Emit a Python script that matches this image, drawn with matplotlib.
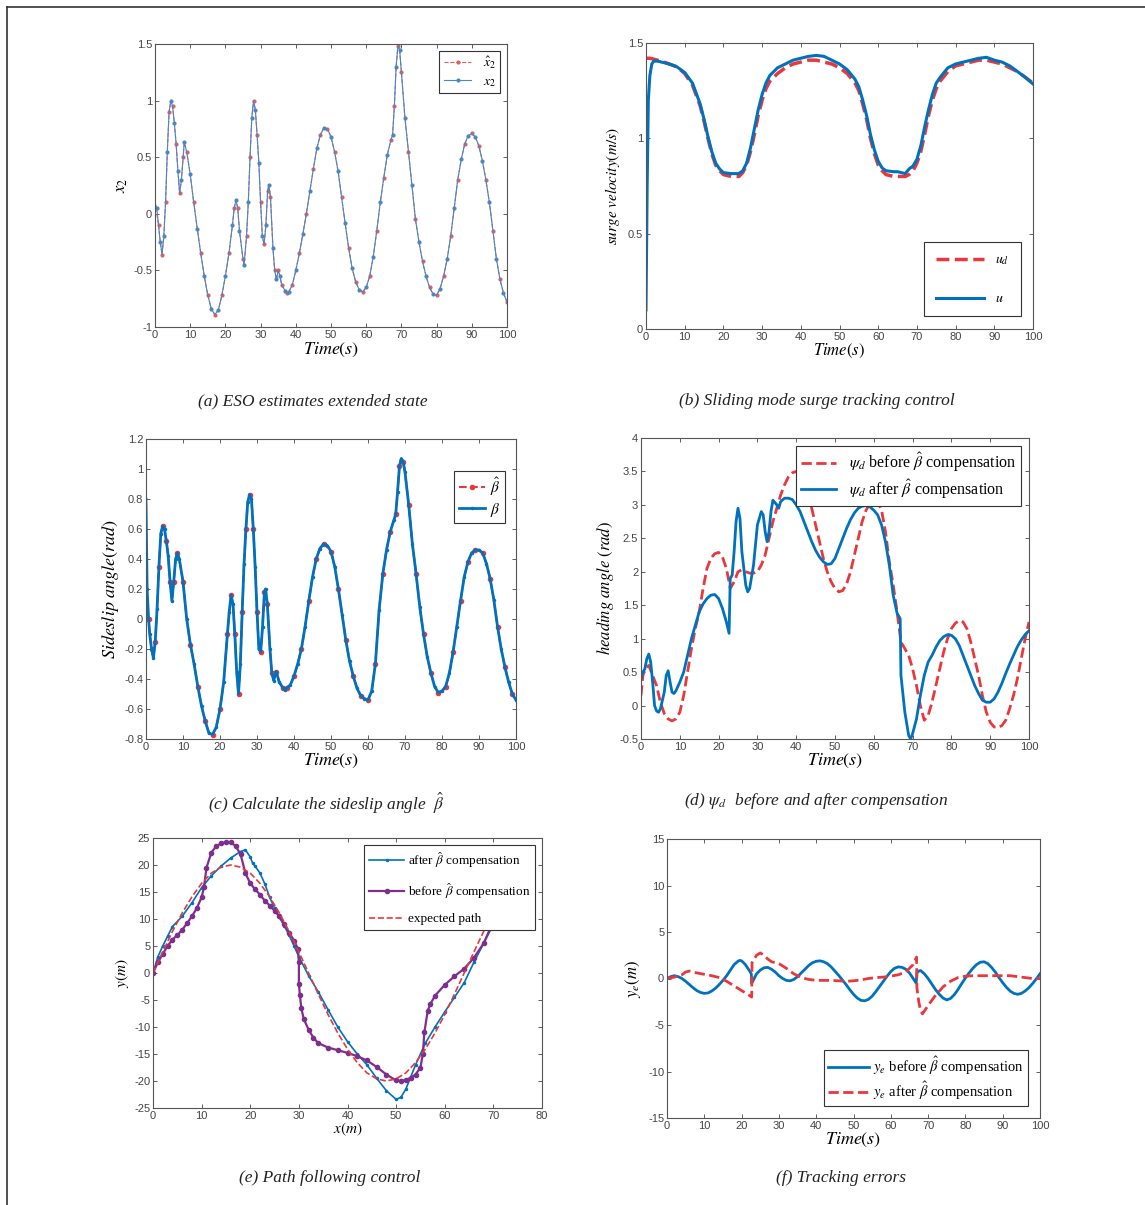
import matplotlib.pyplot as plt
from matplotlib.lines import Line2D
from matplotlib.ticker import FuncFormatter, MultipleLocator

# ---------- data ----------
# (a) ESO estimate of x2
t_a = [0, 0.5, 1, 1.5, 2, 2.5, 3, 3.5, 4, 4.5,
       5, 5.5, 6, 6.5, 7, 7.5, 8, 8.3, 9, 10,
       11, 12, 13, 14, 15, 16, 17, 18, 19, 20,
       21, 22, 22.5, 23, 23.5, 24, 25, 25.3, 26, 26.5,
       27, 27.5, 28, 28.5, 29, 29.5, 30, 30.5, 31, 31.5,
       32, 32.3, 32.8, 33.5, 34, 34.5, 35, 35.5, 36, 37,
       37.5, 38, 39, 40, 41, 42, 43, 44, 45, 46,
       47, 48, 49, 50, 51, 52, 53, 54, 55, 56,
       57, 58, 59, 60, 61, 62, 63, 64, 65, 66,
       67, 67.5, 68, 68.5, 69, 69.5, 70, 71, 72, 73,
       74, 75, 76, 77, 78, 79, 80, 81, 82, 83,
       84, 85, 86, 87, 88, 89, 90, 91, 92, 93,
       94, 95, 96, 97, 98, 99, 100]
x2 = [0.1, 0.05, -0.1, -0.25, -0.36, -0.2, 0.1, 0.55, 0.9, 1.0,
      0.95, 0.8, 0.62, 0.38, 0.18, 0.3, 0.5, 0.63, 0.55, 0.35,
      0.1, -0.13, -0.35, -0.55, -0.72, -0.84, -0.89, -0.85, -0.72, -0.55,
      -0.35, -0.1, 0.05, 0.12, 0.05, -0.15, -0.4, -0.45, -0.2, 0.1,
      0.5, 0.85, 1.0, 0.92, 0.7, 0.45, 0.1, -0.2, -0.27, -0.1,
      0.2, 0.25, 0.15, -0.3, -0.5, -0.58, -0.5, -0.55, -0.63, -0.68,
      -0.7, -0.69, -0.63, -0.5, -0.35, -0.18, 0.0, 0.2, 0.4, 0.58,
      0.7, 0.76, 0.75, 0.68, 0.55, 0.38, 0.15, -0.08, -0.3, -0.48,
      -0.6, -0.67, -0.69, -0.65, -0.55, -0.38, -0.15, 0.1, 0.32, 0.52,
      0.65, 0.7, 0.95, 1.3, 1.48, 1.45, 1.25, 0.85, 0.55, 0.25,
      -0.05, -0.25, -0.42, -0.55, -0.65, -0.71, -0.72, -0.66, -0.55, -0.4,
      -0.2, 0.05, 0.3, 0.48, 0.62, 0.69, 0.71, 0.68, 0.6, 0.47,
      0.3, 0.1, -0.15, -0.4, -0.58, -0.7, -0.78]
x2_hat_start = [0.05, 0.0]   # estimate differs only in the first samples
x2_hat = x2_hat_start + x2[2:]

# (b) surge velocity
t_b = [0, 0.3, 0.6, 1, 1.5, 2, 3, 4, 6, 8,
       10, 12, 14, 15, 16, 17, 18, 19, 20, 22,
       24, 25, 26, 27, 28, 29, 30, 31, 32, 34,
       36, 38, 40, 42, 44, 46, 48, 50, 52, 54,
       55, 56, 57, 58, 59, 60, 61, 62, 64, 65,
       66, 67, 68, 69, 70, 71, 72, 73, 74, 75,
       76, 78, 80, 82, 84, 86, 88, 90, 92, 94,
       96, 98, 100]
u_d = [1.42, 1.42, 1.42, 1.42, 1.418, 1.415, 1.41, 1.405, 1.39, 1.375,
       1.34, 1.28, 1.17, 1.09, 1.0, 0.92, 0.86, 0.83, 0.81, 0.80,
       0.80, 0.82, 0.86, 0.93, 1.02, 1.12, 1.2, 1.26, 1.3, 1.34,
       1.37, 1.39, 1.40, 1.41, 1.41, 1.40, 1.39, 1.37, 1.34, 1.29,
       1.25, 1.18, 1.1, 1.0, 0.92, 0.86, 0.83, 0.81, 0.80, 0.80,
       0.80, 0.80, 0.81, 0.83, 0.87, 0.93, 1.02, 1.12, 1.2, 1.26,
       1.3, 1.35, 1.38, 1.39, 1.40, 1.41, 1.41, 1.40, 1.39, 1.37,
       1.35, 1.32, 1.29]
u = [0.1, 0.75, 1.2, 1.33, 1.39, 1.405, 1.405, 1.40, 1.39, 1.375,
     1.345, 1.29, 1.18, 1.1, 1.01, 0.93, 0.87, 0.84, 0.82, 0.815,
     0.815, 0.83, 0.87, 0.95, 1.05, 1.15, 1.23, 1.29, 1.33, 1.37,
     1.39, 1.41, 1.42, 1.43, 1.435, 1.43, 1.41, 1.39, 1.36, 1.31,
     1.27, 1.2, 1.12, 1.02, 0.94, 0.88, 0.845, 0.83, 0.825, 0.825,
     0.82, 0.815, 0.84, 0.855, 0.89, 0.96, 1.06, 1.15, 1.23, 1.29,
     1.32, 1.37, 1.39, 1.40, 1.41, 1.42, 1.425, 1.41, 1.40, 1.38,
     1.35, 1.32, 1.285]

# (c) sideslip angle
t_c = [0, 0.3, 0.7, 1, 1.5, 2, 2.5, 3, 3.5, 4,
       4.5, 5, 5.5, 6, 6.5, 7, 7.5, 8, 8.5, 9,
       10, 11, 12, 13, 14, 15, 16, 17, 18, 19,
       20, 21, 22, 22.5, 23, 23.5, 24, 24.5, 25, 25.5,
       26, 26.5, 27, 27.5, 28, 28.5, 29, 29.5, 30, 30.5,
       31, 31.5, 32, 32.3, 32.8, 33.5, 34, 34.5, 35.2, 36,
       37, 37.5, 38, 39, 40, 41, 42, 43, 44, 45,
       46, 47, 48, 49, 50, 51, 52, 53, 54, 55,
       56, 57, 58, 59, 60, 61, 62, 63, 64, 65,
       66, 67, 67.5, 68, 68.5, 69, 69.5, 70, 71, 72,
       73, 74, 75, 76, 77, 78, 79, 80, 81, 82,
       83, 84, 85, 86, 87, 88, 89, 90, 91, 92,
       93, 94, 95, 96, 97, 98, 99, 100]
beta = [0.8, 0.2, 0.0, -0.1, -0.2, -0.26, -0.15, 0.07, 0.35, 0.57,
        0.62, 0.6, 0.52, 0.42, 0.25, 0.12, 0.25, 0.4, 0.44, 0.4,
        0.25, 0.0, -0.17, -0.3, -0.45, -0.58, -0.68, -0.76, -0.77, -0.72,
        -0.6, -0.42, -0.1, 0.05, 0.16, 0.1, -0.1, -0.35, -0.5, -0.3,
        0.05, 0.37, 0.6, 0.78, 0.83, 0.8, 0.6, 0.35, 0.05, -0.2,
        -0.22, -0.05, 0.18, 0.2, 0.1, -0.2, -0.36, -0.41, -0.35, -0.42,
        -0.46, -0.47, -0.46, -0.44, -0.38, -0.3, -0.2, -0.05, 0.12, 0.28,
        0.4, 0.47, 0.5, 0.49, 0.45, 0.35, 0.2, 0.03, -0.14, -0.28,
        -0.38, -0.46, -0.51, -0.53, -0.54, -0.48, -0.3, 0.06, 0.3, 0.46,
        0.58, 0.66, 0.7, 0.85, 1.02, 1.07, 1.05, 0.98, 0.76, 0.5,
        0.3, 0.08, -0.1, -0.25, -0.36, -0.45, -0.49, -0.48, -0.45, -0.36,
        -0.22, -0.05, 0.12, 0.28, 0.38, 0.44, 0.46, 0.46, 0.44, 0.37,
        0.27, 0.13, -0.05, -0.2, -0.32, -0.42, -0.5, -0.54]
beta_hat_start = [0.0, 0.05, 0.0]
beta_hat = beta_hat_start + beta[3:]

# (d) desired heading before / after compensation
t_before = [0, 0.5, 1, 2, 3, 4, 5, 6, 7, 8,
            9, 10, 11, 12, 13, 14, 15, 16, 17, 18,
            19, 20, 21, 22, 22.7, 23, 24, 25, 26, 27,
            28, 29, 30, 31, 32, 33, 34, 35, 36, 37,
            38, 39, 40, 41, 42, 43, 44, 45, 46, 47,
            48, 49, 50, 51, 52, 53, 54, 55, 56, 57,
            58, 59, 60, 61, 62, 63, 64, 65, 66, 67,
            68, 69, 70, 71, 72, 73, 74, 75, 76, 77,
            78, 79, 80, 81, 82, 83, 84, 85, 86, 87,
            88, 89, 90, 91, 92, 93, 94, 95, 96, 97,
            98, 99, 100]
psi_before = [0.15, 0.45, 0.55, 0.6, 0.45, 0.3, 0.05, -0.12, -0.2, -0.23,
              -0.2, -0.1, 0.15, 0.5, 0.85, 1.15, 1.4, 1.75, 2.05, 2.2,
              2.27, 2.29, 2.22, 2.05, 1.85, 1.75, 1.85, 2.0, 2.03, 2.0,
              1.98, 1.98, 2.0, 2.1, 2.25, 2.5, 2.75, 2.95, 3.15, 3.3,
              3.42, 3.48, 3.5, 3.45, 3.35, 3.15, 2.95, 2.7, 2.45, 2.2,
              2.0, 1.85, 1.75, 1.7, 1.72, 1.82, 2.0, 2.25, 2.5, 2.75,
              2.92, 3.02, 3.06, 3.05, 2.92, 2.6, 2.15, 1.8, 1.4, 0.95,
              0.85, 0.75, 0.55, 0.3, 0.0, -0.22, -0.15, 0.05, 0.3, 0.55,
              0.8, 1.0, 1.15, 1.23, 1.27, 1.25, 1.15, 0.95, 0.7, 0.45,
              0.15, -0.1, -0.25, -0.32, -0.33, -0.3, -0.22, -0.05, 0.15, 0.4,
              0.7, 1.0, 1.25]
t_after = [0, 0.5, 1, 1.5, 2, 2.5, 3, 3.5, 4, 4.5,
           5, 6, 6.5, 7, 7.5, 8, 8.5, 9, 10, 11,
           12, 13, 14, 15, 16, 17, 18, 19, 20, 21,
           22, 22.7, 23, 23.5, 24, 24.5, 25, 25.5, 26, 27,
           27.5, 28, 29, 30, 31, 31.5, 32, 32.5, 33, 33.5,
           34, 35, 35.5, 36, 37, 38, 39, 40, 41, 42,
           43, 44, 45, 46, 47, 48, 49, 50, 51, 52,
           53, 54, 55, 56, 57, 58, 59, 60, 61, 62,
           63, 64, 65, 66, 66.8, 67, 68, 69, 69.5, 70,
           71, 72, 73, 74, 75, 76, 77, 78, 79, 80,
           81, 82, 83, 84, 85, 86, 87, 88, 89, 90,
           91, 92, 93, 94, 95, 96, 97, 98, 99, 100]
psi_after = [0.4, 0.5, 0.55, 0.7, 0.77, 0.65, 0.35, 0.0, -0.08, -0.1,
             -0.05, 0.2, 0.45, 0.52, 0.35, 0.2, 0.18, 0.22, 0.35, 0.5,
             0.75, 1.0, 1.2, 1.4, 1.52, 1.6, 1.65, 1.66, 1.6, 1.45,
             1.25, 1.08, 1.9, 1.95, 2.3, 2.75, 2.95, 2.8, 2.3, 1.8,
             1.7, 1.75, 2.1, 2.7, 2.9, 2.85, 2.6, 2.45, 2.6, 2.9,
             3.07, 3.0, 2.95, 3.05, 3.1, 3.1, 3.08, 3.0, 2.9, 2.75,
             2.6, 2.45, 2.32, 2.22, 2.15, 2.11, 2.12, 2.2, 2.35, 2.5,
             2.65, 2.78, 2.88, 2.95, 2.98, 2.99, 2.97, 2.92, 2.85, 2.7,
             2.45, 2.1, 1.65, 1.38, 1.3, 0.45, -0.1, -0.45, -0.5, -0.42,
             -0.2, 0.15, 0.45, 0.65, 0.75, 0.87, 0.97, 1.03, 1.06, 1.05,
             1.0, 0.9, 0.75, 0.6, 0.45, 0.3, 0.18, 0.08, 0.05, 0.05,
             0.1, 0.2, 0.33, 0.48, 0.62, 0.75, 0.88, 0.98, 1.06, 1.12]

# (e) path following
path_x = [0, 2, 4, 6, 8, 10, 12, 14, 16, 18,
          20, 22, 24, 26, 28, 30, 32, 34, 36, 38,
          40, 42, 44, 46, 48, 50, 52, 54, 56, 58,
          60, 62, 64, 66, 68, 70]
path_y = [0, 3.9, 7.7, 11.1, 14.1, 16.6, 18.5, 19.6, 20, 19.6,
          18.5, 16.6, 14.1, 11.1, 7.7, 3.9, 0, -3.9, -7.7, -11.1,
          -14.1, -16.6, -18.5, -19.6, -20, -19.6, -18.5, -16.6, -14.1, -11.1,
          -7.7, -3.9, 0, 3.9, 7.7, 11.1]
after_x = [0, 1, 2, 3, 4, 6, 8, 10, 12, 14,
           16, 18, 19, 20, 20.5, 21, 22, 23, 24, 25,
           26, 27, 28, 29, 30, 32, 34, 36, 38, 40,
           42, 44, 46, 48, 50, 51, 52, 54, 56, 58,
           60, 62, 64, 66, 68, 70, 71]
after_y = [0, 3, 5, 6.8, 8.6, 10.5, 13, 15.8, 18, 19.8,
           21.3, 22.5, 22.8, 21.5, 20.3, 19.8, 18.5, 16.5, 14, 12,
           10.3, 8.7, 7, 5, 3, -0.5, -3.5, -6.8, -10, -12.7,
           -15, -17, -19.5, -21.8, -23.4, -23, -21.5, -17, -13, -10,
           -7.2, -4.5, -1.8, 2, 5.5, 9.8, 11]
before_x = [0, 1, 2, 3, 4, 5, 6, 7, 8, 9,
            10, 10.5, 11, 12, 13, 14, 15, 16, 17, 18,
            19, 20, 21, 22, 23, 24, 25, 26, 27, 28,
            29, 29.8, 30, 30, 30.2, 30.5, 31, 32, 33, 34,
            36, 38, 40, 42, 44, 46, 48, 50, 51, 52,
            53, 54, 55, 55.5, 55.8, 56.5, 57, 58, 60, 62,
            64, 66, 68, 70]
before_y = [0, 2, 3.5, 5, 6.2, 7, 8, 9.2, 10.5, 12,
            14, 16, 19.5, 22.3, 23.5, 24, 24.2, 24.2, 23.5, 22,
            18.5, 16.6, 15.5, 14.5, 13.4, 12.5, 11.5, 10.5, 9, 7.5,
            6, 4.5, 2, -2, -4, -6.5, -8.5, -10.5, -12, -13,
            -13.8, -14.3, -14.8, -15.4, -16.2, -17.4, -18.8, -19.9, -20, -19.8,
            -19.4, -18.8, -17.5, -15, -11, -7, -5.8, -4.2, -2.2, -0.6,
            0.8, 2.8, 5.5, 9.2]

# (f) cross-track error
t_fb = [0, 1, 2, 3, 4, 5, 6, 7, 8, 9,
        10, 11, 12, 13, 14, 15, 16, 17, 18, 19,
        19.5, 20, 21, 22, 22.6, 22.7, 23, 24, 25, 26,
        27, 28, 29, 30, 31, 32, 33, 34, 35, 36,
        37, 38, 39, 40, 41, 42, 43, 44, 45, 46,
        47, 48, 49, 50, 51, 52, 53, 54, 55, 56,
        57, 58, 59, 60, 61, 62, 63, 64, 65, 66,
        66.8, 67, 67.5, 68, 69, 70, 71, 72, 73, 74,
        75, 76, 77, 78, 79, 80, 81, 82, 83, 84,
        85, 86, 87, 88, 89, 90, 91, 92, 93, 94,
        95, 96, 97, 98, 99, 100]
ye_before = [0, 0.2, 0.3, 0.2, 0.0, -0.3, -0.65, -1.0, -1.3, -1.5,
             -1.6, -1.55, -1.35, -1.05, -0.65, -0.2, 0.3, 0.9, 1.5, 1.85,
             1.95, 1.9, 1.5, 0.9, 0.5, -0.5, -0.3, 0.5, 0.9, 1.15,
             1.2, 1.0, 0.7, 0.3, 0.0, -0.2, -0.25, -0.1, 0.2, 0.6,
             1.0, 1.4, 1.7, 1.85, 1.9, 1.8, 1.6, 1.25, 0.8, 0.35,
             -0.15, -0.65, -1.2, -1.7, -2.1, -2.35, -2.4, -2.25, -1.9, -1.4,
             -0.85, -0.3, 0.25, 0.75, 1.1, 1.25, 1.2, 1.0, 0.6, 0.0,
             -0.5, 0.6, 0.8, 0.85, 0.5, 0.0, -0.6, -1.2, -1.7, -2.1,
             -2.3, -2.15, -1.75, -1.2, -0.55, 0.05, 0.6, 1.1, 1.5, 1.75,
             1.8, 1.6, 1.2, 0.7, 0.1, -0.45, -0.95, -1.35, -1.6, -1.7,
             -1.6, -1.35, -1.0, -0.55, -0.05, 0.5]
t_fa = [0, 2, 4, 5, 6, 8, 10, 12, 14, 16,
        18, 20, 22, 22.7, 22.8, 24, 25, 26, 27, 28,
        30, 32, 34, 36, 38, 40, 42, 44, 46, 48,
        50, 52, 54, 56, 58, 60, 62, 64, 66, 66.9,
        67, 67.5, 68, 68.5, 70, 72, 74, 76, 78, 80,
        82, 84, 86, 88, 90, 92, 94, 96, 98, 100]
ye_after = [0, 0.15, 0.4, 0.7, 0.8, 0.6, 0.45, 0.3, 0.1, -0.3,
            -0.8, -1.3, -1.8, -2.0, 1.7, 2.5, 2.75, 2.5, 2.1, 1.8,
            1.6, 1.1, 0.5, 0.1, -0.1, -0.2, -0.2, -0.2, -0.25, -0.3,
            -0.25, -0.15, 0.0, 0.1, 0.15, 0.25, 0.4, 0.7, 1.5, 2.3,
            -1.0, -2.5, -3.5, -3.8, -2.9, -1.8, -0.9, -0.3, 0.1, 0.25,
            0.3, 0.3, 0.3, 0.3, 0.3, 0.3, 0.2, 0.1, 0.0, 0.0]

# ---------- style ----------
W, H = 1145, 1205
BLUE = "#0072BD"
RED = "#E8383D"
PURPLE = "#7E2F8E"
plt.rcParams.update({
    "font.family": "Liberation Sans",
    "mathtext.fontset": "stix",
    "axes.unicode_minus": False,
    "xtick.direction": "in", "ytick.direction": "in",
    "xtick.top": True, "ytick.right": True,
    "xtick.labelsize": 8, "ytick.labelsize": 8,
    "xtick.major.size": 3, "ytick.major.size": 3,
    "xtick.major.width": 0.6, "ytick.major.width": 0.6,
    "xtick.color": "#444444", "ytick.color": "#444444",
    "axes.edgecolor": "#555555", "axes.linewidth": 0.8,
    "legend.frameon": True, "legend.fancybox": False,
    "legend.edgecolor": "#333333", "legend.framealpha": 1.0,
})
SERIF = "Liberation Serif"


def px_axes(fig, left, top, right, bottom):
    return fig.add_axes([left / W, 1 - bottom / H, (right - left) / W, (bottom - top) / H])


def finish(ax, xlim, xstep, ylim, ystep):
    ax.set_xlim(*xlim)
    ax.set_ylim(*ylim)
    ax.xaxis.set_major_locator(MultipleLocator(xstep))
    ax.yaxis.set_major_locator(MultipleLocator(ystep))
    fmt = FuncFormatter(lambda v, _: f"{v:g}")
    ax.xaxis.set_major_formatter(fmt)
    ax.yaxis.set_major_formatter(fmt)
    ax.tick_params(pad=2)


def legend(ax, **kw):
    leg = ax.legend(prop={"family": SERIF, "size": kw.pop("size", 10)}, **kw)
    leg.get_frame().set_linewidth(0.8)
    return leg


fig = plt.figure(figsize=(W / 100, H / 100), dpi=100)

# (a)
ax = px_axes(fig, 155, 44, 507, 327)
ax.plot(t_a, x2_hat, "--", color="#E06060", lw=0.8, marker=".", ms=4,
        markevery=(0, 2), label=r"$\hat{x}_2$")
ax.plot(t_a, x2, "-", color="#4D86C0", lw=0.8, marker=".", ms=4,
        markevery=(1, 2), label=r"$x_2$")
finish(ax, (0, 100), 10, (-1, 1.5), 0.5)
ax.set_xlabel(r"$Time(s)$", fontsize=13, labelpad=1)
ax.set_ylabel(r"$x_2$", fontsize=12, labelpad=2)
legend(ax, loc="upper right", size=10, handlelength=2.0, labelspacing=0.3,
       borderpad=0.3, borderaxespad=0.5)

# (b)
ax = px_axes(fig, 646, 43, 1033, 329)
ax.plot(t_b, u_d, "--", color=RED, lw=2.5, label=r"$u_d$")
ax.plot(t_b, u, "-", color=BLUE, lw=2.2, label=r"$u$")
finish(ax, (0, 100), 10, (0, 1.5), 0.5)
ax.set_xlabel(r"$Time(s)$", fontsize=12, labelpad=0)
ax.set_ylabel(r"$surge\ velocity(m/s)$", fontsize=11, labelpad=4)
legend(ax, loc="lower right", size=10, handlelength=3.5, labelspacing=1.8,
       borderaxespad=0.9, borderpad=0.8)

# (c)
ax = px_axes(fig, 146, 439, 516, 739)
ax.plot(t_c, beta_hat, "--", color=RED, lw=1.5, marker=".", ms=6,
        markevery=(0, 2), label=r"$\hat{\beta}$")
ax.plot(t_c, beta, "-", color=BLUE, lw=2.0, marker=".", ms=3,
        markevery=(1, 2), label=r"$\beta$")
finish(ax, (0, 100), 10, (-0.8, 1.2), 0.2)
ax.set_xlabel(r"$Time(s)$", fontsize=13, labelpad=0)
ax.set_ylabel(r"$Sideslip\ angle(rad)$", fontsize=13, labelpad=2)
legend(ax, loc="upper right", size=11, handlelength=1.7, handletextpad=0.3,
       labelspacing=0.2, borderpad=0.3, bbox_to_anchor=(0.99, 0.92))

# (d)
ax = px_axes(fig, 641, 438, 1029, 739)
ax.plot(t_before, psi_before, "--", color=RED, lw=2.0,
        label=r"$\psi_d$ before $\hat{\beta}$ compensation")
ax.plot(t_after, psi_after, "-", color=BLUE, lw=2.0,
        label=r"$\psi_d$ after $\hat{\beta}$ compensation")
finish(ax, (0, 100), 10, (-0.5, 4), 0.5)
ax.set_xlabel(r"$Time(s)$", fontsize=13, labelpad=0)
ax.set_ylabel(r"$heading\ angle\ (rad)$", fontsize=12, labelpad=2)
legend(ax, loc="upper right", size=11.5, handlelength=2.2, labelspacing=0.2,
       borderaxespad=0.5, borderpad=0.3)

# (e)
ax = px_axes(fig, 153, 838, 542, 1108)
ax.plot(after_x, after_y, "-", color=BLUE, lw=1.2, marker=".", ms=3,
        label=r"after $\hat{\beta}$ compensation")
ax.plot(before_x, before_y, "-", color=PURPLE, lw=1.6, marker=".", ms=6,
        label=r"before $\hat{\beta}$ compensation")
ax.plot(path_x, path_y, "--", color=RED, lw=1.2, label="expected path")
finish(ax, (0, 80), 10, (-25, 25), 5)
ax.set_xlabel(r"$x(m)$", fontsize=11, labelpad=0)
ax.set_ylabel(r"$y(m)$", fontsize=11, labelpad=2)
legend(ax, loc="upper right", size=9.5, handlelength=2.6, handletextpad=0.3,
       labelspacing=0.9, borderaxespad=0.5)

# (f)
ax = px_axes(fig, 667, 839, 1040, 1118)
ax.plot(t_fb, ye_before, "-", color=BLUE, lw=2.0,
        label=r"$y_e$ before $\hat{\beta}$ compensation")
ax.plot(t_fa, ye_after, "--", color=RED, lw=2.0,
        label=r"$y_e$ after $\hat{\beta}$ compensation")
finish(ax, (0, 100), 10, (-15, 15), 5)
ax.set_xlabel(r"$Time(s)$", fontsize=13, labelpad=0)
ax.set_ylabel(r"$y_e(m)$", fontsize=12, labelpad=4)
legend(ax, loc="lower right", size=10.5, handlelength=2.8, handletextpad=0.3,
       labelspacing=0.2, borderaxespad=0.8, borderpad=0.3)

# ---------- captions ----------
caps = [
    (313, 401, "(a) ESO estimates extended state"),
    (817, 401, "(b) Sliding mode surge tracking control"),
    (326, 803, r"(c) Calculate the sideslip angle  $\hat{\beta}$"),
    (816, 801, r"(d) $\psi_d$  before and after compensation"),
    (330, 1178, "(e) Path following control"),
    (841, 1178, "(f) Tracking errors"),
]
for cx, cy, txt in caps:
    fig.text(cx / W, 1 - cy / H, txt, ha="center", va="center",
             family=SERIF, style="italic", fontsize=12.5, color="#222222")

# thin frame round the figure (top and left edge, as in the scan)
fig.add_artist(Line2D([7 / W, 1], [1 - 7 / H, 1 - 7 / H], color="#333333", lw=1.2))
fig.add_artist(Line2D([7 / W, 7 / W], [1 - 7 / H, 0], color="#333333", lw=1.2))

fig.savefig("out.png", dpi=100)
